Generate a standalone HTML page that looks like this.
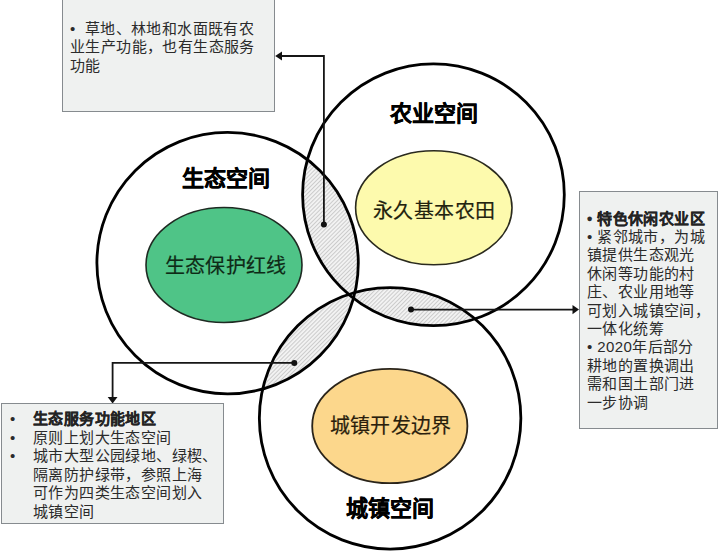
<!DOCTYPE html>
<html lang="zh-CN">
<head>
<meta charset="utf-8">
<style>
html,body{margin:0;padding:0;background:#fff;}
body{width:720px;height:551px;position:relative;overflow:hidden;font-family:"Liberation Sans",sans-serif;}
svg{position:absolute;left:0;top:0;}
.box{position:absolute;box-sizing:border-box;background:#eff1f0;border:1.4px solid #868b8f;color:#2b2b2b;font-size:15px;letter-spacing:0.4px;line-height:18.4px;}
.t{position:absolute;white-space:nowrap;}
.title{font-weight:bold;-webkit-text-stroke:0.35px #000;font-size:22px;color:#000;line-height:22px;}
.in{font-size:20px;letter-spacing:0.4px;-webkit-text-stroke:0.2px currentColor;line-height:20px;}
</style>
</head>
<body>
<svg width="720" height="551" viewBox="0 0 720 551">
  <defs>
    <pattern id="h" patternUnits="userSpaceOnUse" width="2.9" height="2.9" patternTransform="rotate(45)">
      <rect width="2.9" height="2.9" fill="#f3f3f3"/>
      <rect x="0" width="1" height="2.9" fill="#cbcbcb"/>
    </pattern>
    <clipPath id="cE"><circle cx="227.6" cy="263.1" r="130.7"/></clipPath>
    <clipPath id="cA"><circle cx="433.45" cy="194.8" r="130.85"/></clipPath>
    <clipPath id="cU"><circle cx="390.1" cy="418.3" r="130.75"/></clipPath>
  </defs>
  <!-- hatched lenses -->
  <g clip-path="url(#cE)"><circle cx="433.45" cy="194.8" r="130.85" fill="url(#h)"/></g>
  <g clip-path="url(#cE)"><circle cx="390.1" cy="418.3" r="130.75" fill="url(#h)"/></g>
  <g clip-path="url(#cA)"><circle cx="390.1" cy="418.3" r="130.75" fill="url(#h)"/></g>
  <!-- inner ellipses -->
  <ellipse cx="224" cy="265" rx="78" ry="57.5" fill="#4fc487" stroke="#1e2a22" stroke-width="1.6"/>
  <ellipse cx="433.8" cy="207.8" rx="78.2" ry="57" fill="#fdfaad" stroke="#2a2a1e" stroke-width="1.6"/>
  <ellipse cx="389.8" cy="426" rx="77.6" ry="57.2" fill="#fcd78c" stroke="#2a241a" stroke-width="1.8"/>
  <!-- big circles -->
  <circle cx="227.6" cy="263.1" r="130.7" fill="none" stroke="#000" stroke-width="2.8"/>
  <circle cx="433.45" cy="194.8" r="130.85" fill="none" stroke="#000" stroke-width="2.8"/>
  <circle cx="390.1" cy="418.3" r="130.75" fill="none" stroke="#000" stroke-width="2.8"/>
  <!-- connectors -->
  <g stroke="#161616" stroke-width="1.8" fill="none">
    <polyline points="323.9,224.4 323.9,56 281,56"/>
    <polyline points="411,309.6 573,309.6"/>
    <polyline points="294.3,362.9 112.6,362.9 112.6,397.5"/>
  </g>
  <g fill="#111">
    <circle cx="323.9" cy="224.4" r="3"/>
    <circle cx="411" cy="309.6" r="3"/>
    <circle cx="294.3" cy="362.9" r="3"/>
    <polygon points="275.2,56 282,51.5 282,60.5"/>
    <polygon points="579,309.6 572.5,304.9 572.5,314.3"/>
    <polygon points="112.6,403.5 107.7,397 117.5,397"/>
  </g>
</svg>

<div class="box" style="left:62px;top:-10px;width:213px;height:122px;"></div>
<div class="box" style="left:578.5px;top:191px;width:139px;height:238px;"></div>
<div class="box" style="left:1px;top:403px;width:222.7px;height:121px;"></div>

<!-- circle titles -->
<div class="t title" style="left:182px;top:168px;">生态空间</div>
<div class="t title" style="left:390px;top:102.5px;">农业空间</div>
<div class="t title" style="left:346px;top:497.5px;">城镇空间</div>

<!-- ellipse labels -->
<div class="t in" style="left:164.5px;top:256px;color:#0e2a16;">生态保护红线</div>
<div class="t in" style="left:373px;top:201px;color:#22220e;">永久基本农田</div>
<div class="t in" style="left:329.5px;top:416px;color:#2a1e0c;">城镇开发边界</div>

<!-- box texts -->
<div class="t" style="left:70px;top:20px;font-size:15px;letter-spacing:0.4px;line-height:18.4px;color:#2b2b2b;">•&nbsp;&nbsp;草地、林地和水面既有农<br>业生产功能，也有生态服务<br>功能</div>

<div class="t" style="left:587px;top:209.5px;font-size:15px;letter-spacing:0.4px;line-height:18.4px;color:#2b2b2b;"><b style="-webkit-text-stroke:0.25px #222">• 特色休闲农业区</b><br>• 紧邻城市，为城<br>镇提供生态观光<br>休闲等功能的村<br>庄、农业用地等<br>可划入城镇空间，<br>一体化统筹<br>• 2020年后部分<br>耕地的置换调出<br>需和国土部门进<br>一步协调</div>

<div class="t" style="left:10px;top:410px;font-size:15px;letter-spacing:0.4px;line-height:18.5px;color:#2b2b2b;">•<br>•<br>•</div>
<div class="t" style="left:33px;top:410px;font-size:15px;letter-spacing:0.4px;line-height:18.5px;color:#2b2b2b;"><b style="-webkit-text-stroke:0.25px #222">生态服务功能地区</b><br>原则上划大生态空间<br>城市大型公园绿地、绿楔、<br>隔离防护绿带，参照上海<br>可作为四类生态空间划入<br>城镇空间</div>
</body>
</html>
